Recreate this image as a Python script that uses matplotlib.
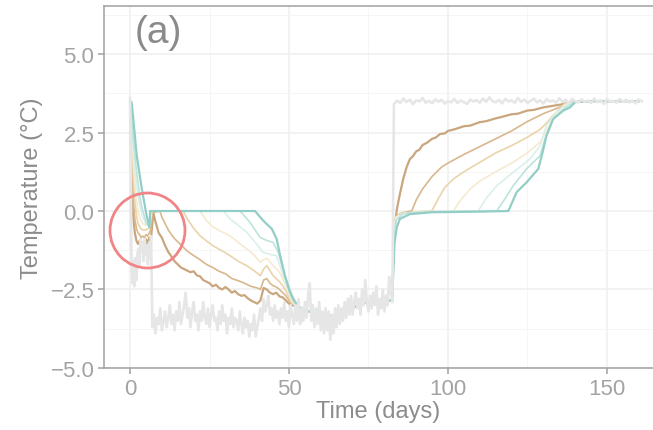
import numpy as np
import matplotlib
matplotlib.use("Agg")
import matplotlib.pyplot as plt

# ---------------------------------------------------------------------------
# data
# ---------------------------------------------------------------------------

# air temperature: warm start, freezing period, thaw period
air_start_days = [0.0, 0.2, 0.4, 0.6, 0.8, 1.0, 1.3, 1.6, 2.0, 2.3, 2.6, 3.0,
                  3.3, 3.6, 4.0, 4.3, 4.6, 5.0, 5.3, 5.6, 6.0, 6.3, 6.6]
air_start_temp = [3.6, 1.0, -1.2, -1.9, -2.3, -1.6, -2.4, -1.5, -2.2, -1.4, -1.2, -1.7,
                  -0.9, -1.3, -1.0, -1.6, -0.9, -1.4, -1.1, -1.7, -1.0, -1.5, -0.8]

air_cold_days = np.arange(7.0, 83.0, 0.5)
air_cold_temp = [
    -3.7, -3.3, -3.9, -3.4, -3.6, -3.1, -3.8, -3.5, -3.2, -3.7,
    -3.4, -3.0, -3.6, -3.3, -3.8, -3.2, -3.5, -2.9, -3.6, -3.3,
    -3.0, -2.6, -3.4, -3.1, -3.7, -3.2, -2.9, -3.5, -3.3, -3.8,
    -3.2, -3.5, -2.9, -3.4, -3.6, -3.1, -3.7, -3.3, -3.0, -3.5,
    -3.4, -3.8, -3.2, -3.6, -3.0, -3.5, -3.3, -3.9, -3.4, -3.6,
    -3.1, -3.7, -3.4, -3.5, -3.8, -3.2, -3.6, -3.9, -3.4, -3.7,
    -3.5, -4.0, -3.6, -3.8, -3.3, -4.0, -3.7, -3.4, -3.1, -3.5,
    -2.8, -3.2, -3.0, -2.7, -3.3, -3.1, -3.5, -3.0, -3.4, -3.2,
    -3.6, -3.1, -3.4, -2.9, -3.5, -3.2, -3.7, -3.0, -3.3, -3.6,
    -3.0, -3.5, -2.8, -3.6, -3.1, -3.5, -2.9, -3.4, -2.7, -2.3,
    -3.5, -3.0, -3.7, -3.1, -3.6, -2.9, -3.8, -3.2, -3.9, -3.1,
    -3.8, -3.2, -4.1, -3.3, -3.9, -3.1, -3.7, -3.0, -3.6, -3.1,
    -3.5, -2.9, -3.4, -2.8, -3.3, -2.7, -3.3, -2.9, -2.6, -3.1,
    -2.8, -3.3, -2.5, -3.0, -2.2, -2.9, -3.2, -2.7, -3.1, -2.6,
    -3.0, -2.4, -3.3, -2.8, -3.1, -2.5, -3.2, -2.7, -3.0, -2.1,
    -2.6, -2.9,
]

air_warm_days = np.arange(83.0, 162.0, 1.0)
air_warm_temp = [
    3.40,
    3.52, 3.44, 3.58, 3.47, 3.55, 3.40, 3.53, 3.49, 3.60, 3.45,
    3.51, 3.43, 3.56, 3.48, 3.54, 3.42, 3.50, 3.46, 3.57, 3.44,
    3.52, 3.47, 3.41, 3.55, 3.49, 3.53, 3.45, 3.58, 3.48, 3.62,
    3.50, 3.46, 3.54, 3.43, 3.57, 3.49, 3.52, 3.45, 3.60, 3.47,
    3.55, 3.44, 3.51, 3.58, 3.46, 3.53, 3.42, 3.56, 3.49, 3.52,
    3.45, 3.59, 3.48, 3.54, 3.43, 3.57, 3.50, 3.46, 3.55, 3.48,
    3.52, 3.44, 3.58, 3.47, 3.53, 3.41, 3.56, 3.49, 3.51, 3.45,
    3.57, 3.48, 3.54, 3.46, 3.52, 3.43, 3.55, 3.50,
]

# shared stretches where all soil depths follow the air (hidden under it)
cold_days = [53, 56, 60, 64, 68, 72, 76, 80, 82.4]
cold_temp = [-3.05, -3.2, -3.3, -3.35, -3.15, -3.0, -2.85, -2.85, -2.85]
warm_days = [140, 145, 150, 155, 160]
warm_temp = [3.47, 3.5, 3.5, 3.5, 3.5]

# soil depths, shallow (brown) to deep (teal)
d1_days = [0, 0.5, 1, 1.5, 2, 2.5, 3, 3.5, 4, 4.5, 5, 5.5, 6, 6.5, 7.0, 7.3, 8, 9, 10,
           11, 12, 13, 14, 15, 16, 17, 18, 19, 20, 21, 22, 23, 24, 25, 26, 27, 28, 29,
           30, 31, 32, 33, 34, 35, 36, 37, 38, 39, 40, 41, 42, 43, 44, 45, 46, 47, 48,
           49, 50, 51]
d1_temp = [3.0, 0.9, -0.2, -0.7, -0.95, -1.05, -0.95, -1.2, -1.05, -1.15, -0.9, -1.05,
           -0.85, -0.95, -0.4, -0.05, -0.35, -0.7, -0.85, -1.1, -1.3, -1.45, -1.6, -1.7,
           -1.8, -1.85, -1.9, -1.95, -1.92, -2.05, -2.08, -2.2, -2.25, -2.3, -2.4, -2.35,
           -2.45, -2.5, -2.42, -2.5, -2.6, -2.55, -2.65, -2.7, -2.68, -2.78, -2.85, -2.9,
           -2.95, -2.85, -2.45, -2.5, -2.6, -2.65, -2.6, -2.72, -2.75, -2.85, -2.95, -3.0]
d1_thaw_days = [83.0, 83.5, 84, 85, 86, 87, 88, 89, 90, 91, 92, 93.5, 95, 96, 97.5, 99,
                100, 102, 105, 107, 110, 112, 115, 117, 120, 122, 125, 127, 130, 133,
                136, 138]
d1_thaw_temp = [-1.0, -0.3, 0.1, 0.6, 1.05, 1.4, 1.65, 1.75, 1.9, 1.95, 2.1, 2.18, 2.3,
                2.33, 2.45, 2.47, 2.55, 2.6, 2.7, 2.72, 2.83, 2.86, 2.95, 3.0, 3.08,
                3.1, 3.2, 3.22, 3.3, 3.35, 3.4, 3.45]

d2_days = [0, 0.5, 1, 1.5, 2, 2.5, 3, 3.5, 4, 4.5, 5, 5.5, 6, 6.5, 7.0, 9.4, 10, 11,
           12, 13, 14, 15, 16, 18, 20, 22, 24, 26, 28, 30, 32, 34, 36, 38, 40, 41, 42,
           43, 44, 45, 46, 47, 48, 49, 50, 51]
d2_temp = [3.2, 1.6, 0.4, -0.25, -0.55, -0.7, -0.75, -0.85, -0.8, -0.85, -0.75, -0.8,
           -0.7, -0.6, -0.05, 0.0, -0.2, -0.4, -0.6, -0.75, -0.88, -0.98, -1.08, -1.28,
           -1.42, -1.55, -1.7, -1.8, -1.92, -2.0, -2.15, -2.22, -2.3, -2.4, -2.45, -2.5,
           -2.2, -2.15, -2.3, -2.38, -2.42, -2.5, -2.6, -2.7, -2.85, -2.95]
d2_thaw_days = [83.0, 83.5, 85, 87, 88.6, 90, 92, 95, 98, 100.6, 105, 110, 115, 120,
                125, 130, 135, 138]
d2_thaw_temp = [-1.2, -0.2, -0.08, -0.03, 0.0, 0.35, 0.7, 1.1, 1.4, 1.56, 1.8, 2.05,
                2.3, 2.55, 2.85, 3.1, 3.3, 3.45]

d3_days = [0, 0.5, 1, 1.5, 2, 2.5, 3, 3.5, 4, 5, 6, 6.5, 6.8, 16.7, 18, 20, 22, 24,
           26, 28, 30, 31.4, 34, 36.7, 39, 41, 42, 43, 45, 47, 48, 49, 50, 51]
d3_temp = [3.3, 2.2, 1.1, 0.3, -0.15, -0.4, -0.5, -0.58, -0.6, -0.6, -0.55, -0.3, 0.0,
           0.0, -0.25, -0.55, -0.79, -0.95, -1.1, -1.22, -1.33, -1.42, -1.6, -1.74,
           -1.9, -2.06, -1.85, -1.74, -2.06, -2.25, -2.38, -2.55, -2.75, -2.95]
d3_thaw_days = [83.0, 83.5, 85, 90, 94.9, 97, 99, 101.7, 105, 110, 115, 120, 125, 129,
                131, 133, 136.5]
d3_thaw_temp = [-1.0, -0.25, -0.1, -0.03, 0.0, 0.4, 0.75, 1.02, 1.25, 1.55, 1.85, 2.08,
                2.35, 2.6, 2.8, 3.03, 3.4]

d4_days = [0, 0.5, 1, 1.5, 2, 2.5, 3, 3.5, 4, 5, 6, 6.5, 6.8, 22, 24, 26, 28, 31.4,
           34, 36.7, 39, 40.9, 42, 43, 45, 47, 48, 49, 50, 51]
d4_temp = [3.35, 2.5, 1.6, 0.9, 0.35, 0.0, -0.2, -0.32, -0.4, -0.45, -0.45, -0.2, 0.0,
           0.0, -0.3, -0.5, -0.62, -0.79, -1.0, -1.21, -1.4, -1.63, -1.55, -1.5, -1.74,
           -1.95, -2.15, -2.4, -2.65, -2.9]
d4_thaw_days = [83.0, 83.5, 86, 95, 101.7, 104, 107, 110, 115, 120, 125, 129, 131,
                134, 137]
d4_thaw_temp = [-0.8, -0.2, -0.07, -0.02, 0.0, 0.35, 0.7, 0.95, 1.25, 1.52, 1.85, 2.2,
                2.55, 3.1, 3.4]

d5_days = [0, 0.5, 1, 1.5, 2, 2.5, 3, 3.5, 4, 5, 6, 6.4, 6.6, 29.3, 31.4, 34, 36.7,
           39, 41.9, 44, 46, 47, 48, 49, 50, 51]
d5_temp = [3.4, 2.7, 2.0, 1.4, 0.9, 0.5, 0.2, -0.02, -0.2, -0.4, -0.5, -0.2, 0.0, 0.0,
           -0.25, -0.45, -0.68, -0.95, -1.32, -1.38, -1.42, -1.7, -2.0, -2.3, -2.55, -2.8]
d5_thaw_days = [83.0, 83.6, 86, 95, 109.5, 112, 115.3, 120.5, 125.8, 129, 131, 134, 137.5]
d5_thaw_temp = [-0.8, -0.25, -0.07, -0.02, 0.0, 0.4, 0.8, 1.23, 1.66, 2.08, 2.72, 3.14, 3.4]

d6_days = [0, 0.5, 1, 1.5, 2, 2.5, 3, 3.5, 4, 5, 6, 6.3, 6.5, 34.6, 37.7, 40.9, 43, 45,
           46.6, 48.7, 50.3, 51.3]
d6_temp = [3.45, 2.9, 2.3, 1.8, 1.3, 0.9, 0.5, 0.2, 0.0, -0.35, -0.5, -0.1, 0.0, 0.0,
           -0.36, -0.84, -0.94, -1.0, -1.32, -2.06, -2.5, -2.75]
d6_thaw_days = [83.0, 83.7, 86, 95, 115.3, 118, 120.5, 124.7, 129, 130.5, 133, 137, 139]
d6_thaw_temp = [-0.9, -0.3, -0.08, -0.02, 0.0, 0.4, 0.8, 1.34, 1.76, 2.29, 2.93, 3.3, 3.42]

d7_days = [0, 0.5, 2.1, 3.7, 5.2, 6.1, 6.3, 39.3, 41.9, 44.6, 46.1, 47.2, 48.7, 50.3, 51.5]
d7_temp = [3.5, 3.46, 1.76, 0.7, -0.15, -0.52, 0.0, 0.0, -0.31, -0.57, -0.89, -1.42,
           -2.06, -2.59, -2.85]
d7_thaw_days = [83.2, 83.9, 84.9, 88, 95, 110, 119, 121.6, 124.7, 128.4, 129.5, 131,
                133.1, 136.3, 138.4]
d7_thaw_temp = [-1.0, -0.52, -0.25, -0.1, -0.04, -0.02, 0.0, 0.6, 0.91, 1.34, 1.76, 2.4,
                2.93, 3.2, 3.3]

depth_colors = ["#C9A67D", "#D8B88D", "#EBD4AA", "#F6EAD0", "#DCF0EB", "#BDE3DC", "#93CEC6"]
depth_widths = [1.6, 1.2, 1.2, 1.2, 1.2, 1.2, 1.6]

# highlighted supercooling spot
circle_day, circle_temp = 5.3, -0.6

# ---------------------------------------------------------------------------
# plot
# ---------------------------------------------------------------------------
plt.rcParams["font.family"] = ["Liberation Sans", "DejaVu Sans"]
TICK_GREY = "#A3A3A3"
LABEL_GREY = "#8C8C8C"
AXIS_GREY = "#A0A0A0"

fig = plt.figure(figsize=(6.53, 4.31), dpi=100)
ax = fig.add_axes([0.1593, 0.1439, 0.8407, 0.8399])

series = [
    (d1_days, d1_temp, d1_thaw_days, d1_thaw_temp),
    (d2_days, d2_temp, d2_thaw_days, d2_thaw_temp),
    (d3_days, d3_temp, d3_thaw_days, d3_thaw_temp),
    (d4_days, d4_temp, d4_thaw_days, d4_thaw_temp),
    (d5_days, d5_temp, d5_thaw_days, d5_thaw_temp),
    (d6_days, d6_temp, d6_thaw_days, d6_thaw_temp),
    (d7_days, d7_temp, d7_thaw_days, d7_thaw_temp),
]
for (fd, ft, td, tt), col, lw in zip(series, depth_colors, depth_widths):
    days = list(fd) + cold_days + list(td) + warm_days
    temp = list(ft) + cold_temp + list(tt) + warm_temp
    ax.plot(days, temp, color=col, lw=lw, solid_joinstyle="round", zorder=3)

air_days = list(air_start_days) + list(air_cold_days) + list(air_warm_days)
air_temp = list(air_start_temp) + list(air_cold_temp) + list(air_warm_temp)
ax.plot(air_days, air_temp, color="#E6E6E6", lw=1.9, zorder=4)

ax.plot([circle_day], [circle_temp], marker="o", ms=54, mfc="none",
        mec="#F08486", mew=2.0, zorder=5)

ax.text(0.056, 0.928, "(a)", transform=ax.transAxes, fontsize=28,
        color="#8A8A8A", ha="left", va="center")

ax.set_xlim(-8.2, 164.5)
ax.set_ylim(-5.0, 6.53)
ax.set_xticks([0, 50, 100, 150])
ax.set_xticks([25, 75, 125], minor=True)
ax.set_yticks([-5.0, -2.5, 0.0, 2.5, 5.0])
ax.set_yticks([-3.75, -1.25, 1.25, 3.75, 6.25], minor=True)
ax.set_yticklabels(["\u22125.0", "\u22122.5", "0.0", "2.5", "5.0"])
ax.grid(which="major", color="#EFEFEF", lw=1.1, zorder=0)
ax.grid(which="minor", color="#F5F5F5", lw=0.7, zorder=0)
ax.set_axisbelow(True)

for side in ["left", "bottom", "top"]:
    ax.spines[side].set_color(AXIS_GREY)
    ax.spines[side].set_linewidth(1.1)
ax.spines["right"].set_visible(False)
ax.tick_params(which="major", direction="out", length=4, width=1.1, color=AXIS_GREY,
               labelcolor=TICK_GREY, labelsize=16, pad=3)
ax.tick_params(which="minor", length=0)

ax.set_xlabel("Time (days)", fontsize=17, color=LABEL_GREY, labelpad=1)
ax.set_ylabel("Temperature (°C)", fontsize=17, color=LABEL_GREY, labelpad=5)

fig.savefig("out.png", dpi=100)
